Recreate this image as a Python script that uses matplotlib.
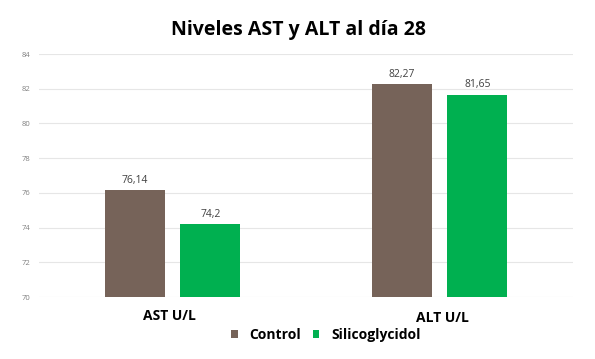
import matplotlib
matplotlib.use("Agg")
import matplotlib.pyplot as plt
import numpy as np

categories = ["AST U/L", "ALT U/L"]
control = [76.14, 82.27]
silico = [74.2, 81.65]
control_labels = ["76,14", "82,27"]
silico_labels = ["74,2", "81,65"]
series_names = ["Control", "Silicoglycidol"]
yticks = [70, 72, 74, 76, 78, 80, 82, 84]

plt.rcParams['font.family'] = ['Open Sans', 'DejaVu Sans']
fig = plt.figure(figsize=(5.95, 3.59), dpi=100)
ax = fig.add_axes([39/595, 1-297/359, (573-39)/595, (297-54)/359])

x = np.arange(len(categories))
w = 0.225
off = 0.142
c1, c2 = "#766359", "#00B050"
b1 = ax.bar(x - off, np.array(control) - 70, w, bottom=70, color=c1, label=series_names[0])
b2 = ax.bar(x + off, np.array(silico) - 70, w, bottom=70, color=c2, label=series_names[1])
for xi, v, t in zip(x - off, control, control_labels):
    ax.text(xi, v + 0.25, t, ha='center', va='bottom', fontsize=7.5, color='#404040')
for xi, v, t in zip(x + off, silico, silico_labels):
    ax.text(xi, v + 0.25, t, ha='center', va='bottom', fontsize=7.5, color='#404040')

ax.set_xlim(-0.5, 1.5)
ax.set_ylim(70, 84)
ax.set_yticks(yticks)
ax.set_yticklabels([str(t) for t in yticks], fontsize=5.5, color='#808080')
ax.set_xticks([])
ax.grid(axis='y', color='#E6E6E6', linewidth=0.8)
ax.set_axisbelow(True)
for s in ax.spines.values():
    s.set_visible(False)
ax.tick_params(axis='y', length=0, pad=6)

fig.text(169/595, 1-316/359, categories[0], ha='center', va='center', fontsize=10, fontweight='bold', color='black')
fig.text(442/595, 1-318/359, categories[1], ha='center', va='center', fontsize=10, fontweight='bold', color='black')

fig.text(298/595, 1-30/359, "Niveles AST y ALT al día 28", ha='center', va='center', fontsize=14, fontweight='bold', color='black')

leg = fig.legend(handles=[b1, b2], loc='center', bbox_to_anchor=(326/595, 1-335/359), ncol=2, frameon=False,
                 prop={'size': 10, 'weight': 'bold'}, handlelength=0.45, handleheight=0.45, handletextpad=0.85, columnspacing=0.85)

fig.savefig("out.png", dpi=100)
